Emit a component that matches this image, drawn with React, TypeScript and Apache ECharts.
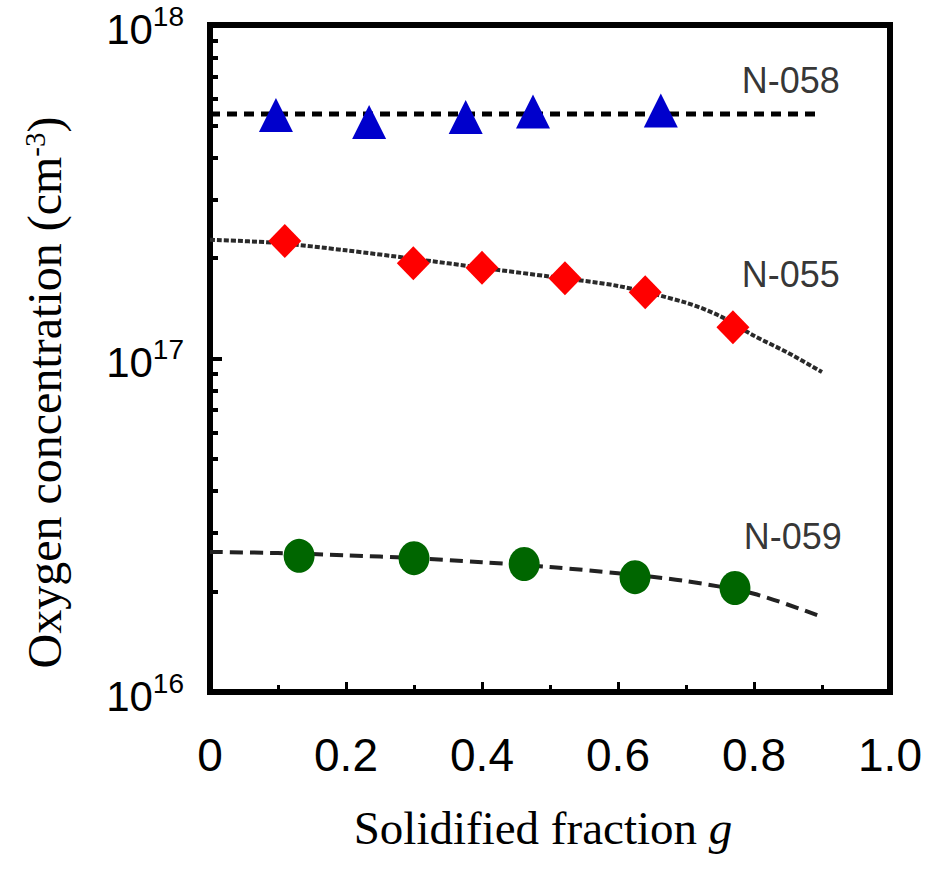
import React, { useEffect, useRef } from 'react';
import * as echarts from 'echarts';

// N-058 (blue triangles) and its flat dashed reference line
const n058Points: [number, number][] = [
  [0.097, 5.37e17], [0.234, 5.12e17], [0.376, 5.3e17], [0.475, 5.5e17], [0.663, 5.54e17],
];
const n058Line: [number, number][] = [[0, 5.41e17], [0.9, 5.41e17]];

// N-055 (red diamonds) and its dotted curve
const n055Points: [number, number][] = [
  [0.11, 2.25e17], [0.299, 1.93e17], [0.4, 1.87e17], [0.522, 1.74e17], [0.64, 1.58e17], [0.769, 1.24e17],
];
const n055Curve: [number, number][] = [
  [0, 2.27e17], [0.1, 2.22e17], [0.2, 2.11e17], [0.3, 1.99e17], [0.4, 1.87e17], [0.5, 1.76e17],
  [0.6, 1.65e17], [0.7, 1.47e17], [0.75, 1.34e17], [0.8, 1.17e17], [0.85, 1.04e17], [0.9, 9.11e16],
];

// N-059 (green circles) and its dashed curve
const n059Points: [number, number][] = [
  [0.131, 2.56e16], [0.3, 2.52e16], [0.462, 2.42e16], [0.625, 2.21e16], [0.772, 2.05e16],
];
const n059Curve: [number, number][] = [
  [0, 2.63e16], [0.1, 2.61e16], [0.2, 2.57e16], [0.3, 2.52e16], [0.4, 2.45e16], [0.5, 2.37e16],
  [0.6, 2.27e16], [0.7, 2.15e16], [0.8, 1.97e16], [0.9, 1.68e16],
];

// Sample labels
const labelNames = ['N-058', 'N-055', 'N-059'];
const labelG = [0.854, 0.854, 0.857];
const labelValues = [6.84e17, 1.78e17, 2.92e16];

// Axes
const xMin = 0;
const xMax = 1;
const xInterval = 0.2;
const yMin = 1e16;
const yMax = 1e18;
const minorMultipliers = [2, 3, 4, 5, 6, 7, 8, 9];
const minorDecades = [16, 17];

const SANS = '"Liberation Sans", Arial, sans-serif';
const SERIF = '"Liberation Serif", "Times New Roman", serif';

export default function App() {
  const ref = useRef<HTMLDivElement>(null);

  useEffect(() => {
    if (!ref.current) return;
    const chart = echarts.init(ref.current, null, { renderer: 'svg' });

    const minorLogTicks: number[] = [];
    minorDecades.forEach((d) => minorMultipliers.forEach((m) => minorLogTicks.push(d + Math.log10(m))));

    const option: any = {
      animation: false,
      backgroundColor: '#fff',
      grid: {
        left: 210,
        right: 44,
        top: 25,
        bottom: 188,
        show: true,
        borderColor: '#000',
        borderWidth: 6,
        backgroundColor: 'transparent',
      },
      xAxis: {
        type: 'value',
        min: xMin,
        max: xMax,
        interval: xInterval,
        name: 'Solidified fraction {i|g}',
        nameLocation: 'middle',
        nameGap: 112,
        nameTextStyle: {
          fontFamily: SERIF,
          fontSize: 47,
          color: '#000',
          padding: [0, 14, 0, 0],
          rich: {
            i: { fontFamily: SERIF, fontSize: 47, fontStyle: 'italic', color: '#000' },
          },
        },
        axisLine: { show: true, lineStyle: { color: '#000', width: 6 } },
        axisTick: { show: true, inside: true, length: 10, lineStyle: { color: '#000', width: 3 } },
        minorTick: { show: true, splitNumber: 2, length: 7, lineStyle: { color: '#000', width: 3 } },
        splitLine: { show: false },
        minorSplitLine: { show: false },
        axisLabel: {
          margin: 40,
          fontFamily: SANS,
          fontSize: 46,
          color: '#000',
          formatter: (v: number) => (v === 0 ? '0' : v.toFixed(1)),
        },
      },
      yAxis: [
        {
          type: 'log',
          logBase: 10,
          min: yMin,
          max: yMax,
          name: 'Oxygen concentration (cm{sup|-3})',
          nameLocation: 'middle',
          nameGap: 142,
          nameRotate: 90,
          nameTextStyle: {
            fontFamily: SERIF,
            fontSize: 48,
            color: '#000',
            padding: [0, 68, 0, 0],
            rich: {
              sup: { fontFamily: SERIF, fontSize: 29, verticalAlign: 'top', lineHeight: 30, color: '#000' },
            },
          },
          axisLine: { show: true, lineStyle: { color: '#000', width: 6 } },
          axisTick: { show: true, inside: true, length: 12, lineStyle: { color: '#000', width: 4 } },
          splitLine: { show: false },
          minorTick: { show: false },
          axisLabel: {
            margin: 26,
            formatter: (v: number) => `{b|10}{s|${Math.round(Math.log10(v))}}`,
            rich: {
              b: { fontFamily: SANS, fontSize: 42, lineHeight: 46, color: '#000', padding: [8, 0, 0, 0] },
              s: { fontFamily: SANS, fontSize: 28, lineHeight: 30, verticalAlign: 'top', color: '#000' },
            },
          },
        },
        {
          type: 'value',
          min: 16,
          max: 18,
          position: 'left',
          axisLine: { show: false },
          axisLabel: { show: false },
          splitLine: { show: false },
          axisTick: {
            show: true,
            inside: true,
            length: 8,
            customValues: minorLogTicks,
            lineStyle: { color: '#000', width: 4 },
          },
        },
      ],
      series: [
        {
          type: 'line',
          data: n058Line,
          symbol: 'none',
          lineStyle: { color: '#000', width: 5, type: [10, 7] },
          z: 2,
        },
        {
          type: 'line',
          data: n055Curve,
          symbol: 'none',
          smooth: 0.3,
          lineStyle: { color: '#2a2a2a', width: 4, type: [5, 2] },
          z: 2,
        },
        {
          type: 'line',
          data: n059Curve,
          symbol: 'none',
          smooth: 0.3,
          lineStyle: { color: '#222', width: 4, type: [13, 7] },
          z: 2,
        },
        {
          type: 'scatter',
          data: n058Points,
          symbol: 'triangle',
          symbolSize: [34, 34],
          itemStyle: { color: '#0000CC', opacity: 1 },
          z: 3,
        },
        {
          type: 'scatter',
          data: n055Points,
          symbol: 'diamond',
          symbolSize: [33, 34],
          itemStyle: { color: '#FF0000', opacity: 1 },
          z: 3,
        },
        {
          type: 'scatter',
          data: n059Points,
          symbol: 'circle',
          symbolSize: [31, 34],
          itemStyle: { color: '#006600', opacity: 1 },
          z: 3,
        },
        {
          type: 'scatter',
          data: labelNames.map((n, i) => ({ name: n, value: [labelG[i], labelValues[i]] })),
          symbolSize: 0,
          label: {
            show: true,
            position: 'inside',
            formatter: (p: any) => p.name,
            fontFamily: SANS,
            fontSize: 36,
            color: '#000',
          },
          z: 4,
        },
      ],
    };

    chart.setOption(option);
    return () => chart.dispose();
  }, []);

  return (
    <div
      ref={ref}
      style={{ position: 'fixed', left: 0, top: 0, width: 934, height: 880, background: '#fff' }}
    />
  );
}
